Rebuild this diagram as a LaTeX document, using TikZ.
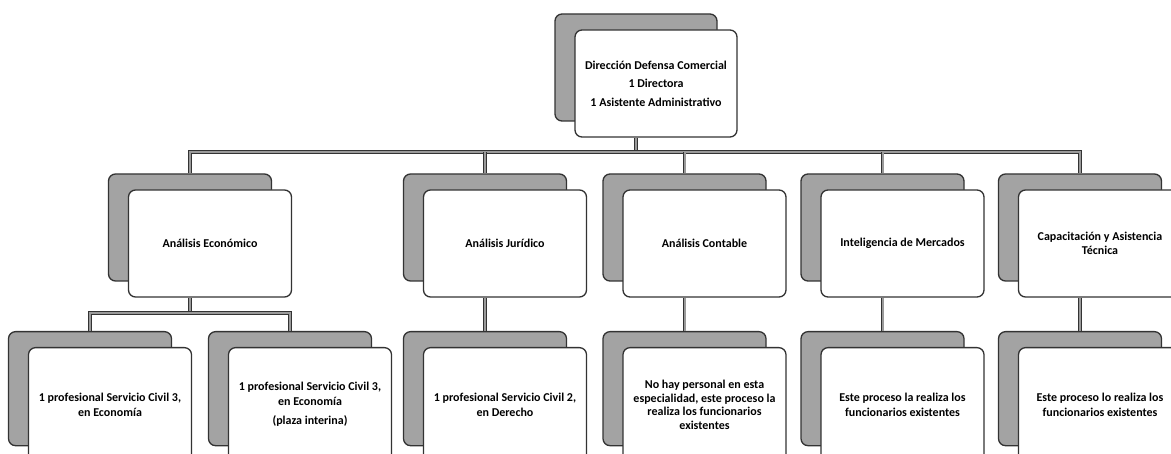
\documentclass[tikz,border=0pt]{standalone}
\usepackage{fontspec}
\setmainfont{Carlito}
\usetikzlibrary{shadows, calc}
\definecolor{oline}{HTML}{333333}
\definecolor{oshade}{HTML}{A3A3A3}
\definecolor{olink}{HTML}{9A9A9A}
\tikzset{
  unitbox/.style={draw=oline, fill=white, line width=1.3pt, rounded corners=7pt,
                  minimum width=163pt, minimum height=107pt, align=center, inner sep=3pt,
                  font=\bfseries\fontsize{12}{14.5}\selectfont,
                  copy shadow={shadow xshift=-20pt, shadow yshift=16pt,
                               draw=oline, fill=oshade, line width=1.3pt}},
  conn/.style={draw=oline, line width=0.9pt, double=olink, double distance=2pt},
}
\begin{document}
\begin{tikzpicture}[x=1pt, y=1pt,
   subbox/.style={unitbox, anchor=north, minimum height=114pt}]
  \clip (0,0) rectangle (1171,453);
  \fill[white] (0,0) rectangle (1171,453);
  \node[unitbox, minimum width=162pt] (dir) at (656,369.5)
    {Dirección Defensa Comercial\\[4pt]1 Directora\\[4pt]1 Asistente Administrativo};
  \node[unitbox] (ae) at (210,209.5) {Análisis Económico};
  \node[unitbox] (aj) at (505,209.5) {Análisis Jurídico};
  \node[unitbox] (ac) at (704.5,209.5) {Análisis Contable};
  \node[unitbox] (im) at (902.5,209.5) {Inteligencia de Mercados};
  \node[unitbox] (ca) at (1100,209.5) {Capacitación y Asistencia\\Técnica};
  \node[subbox] (ae1) at (110,106) {1 profesional Servicio Civil 3,\\en Economía};
  \node[subbox] (ae2) at (310,106)
    {1 profesional Servicio Civil 3,\\en Economía\\[5pt](plaza interina)};
  \node[subbox] (aj1) at (505,106) {1 profesional Servicio Civil 2,\\en Derecho};
  \node[subbox, font=\bfseries\fontsize{12}{13.5}\selectfont] (ac1) at (704.5,106)
    {No hay personal en esta\\especialidad, este proceso la\\realiza los funcionarios\\existentes};
  \node[subbox] (im1) at (902.5,106) {Este proceso la realiza los\\funcionarios existentes};
  \node[subbox] (ca1) at (1100,106) {Este proceso lo realiza los\\funcionarios existentes};
  \draw[conn] ([xshift=-20pt]dir.south) -- ++(0,-16);
  \draw[conn] ([shift={(-20pt,16pt)}]ae.north) -- ++(0,21)
    -- ([shift={(-20pt,37pt)}]ca.north) -- ++(0,-21);
  \foreach \u in {aj,ac,im}
    \draw[conn] ([shift={(-20pt,16pt)}]\u.north) -- ++(0,21);
  \foreach \u in {aj,ac,im,ca}
    \draw[conn] ([xshift=-20pt]\u.south) -- ([shift={(-20pt,16pt)}]\u1.north);
  \draw[conn] ([xshift=-20pt]ae.south) -- ++(0,-15) coordinate (ebus);
  \draw[conn] ([shift={(-20pt,16pt)}]ae1.north) |- (ebus)
    -| ([shift={(-20pt,16pt)}]ae2.north);
\end{tikzpicture}
\end{document}
